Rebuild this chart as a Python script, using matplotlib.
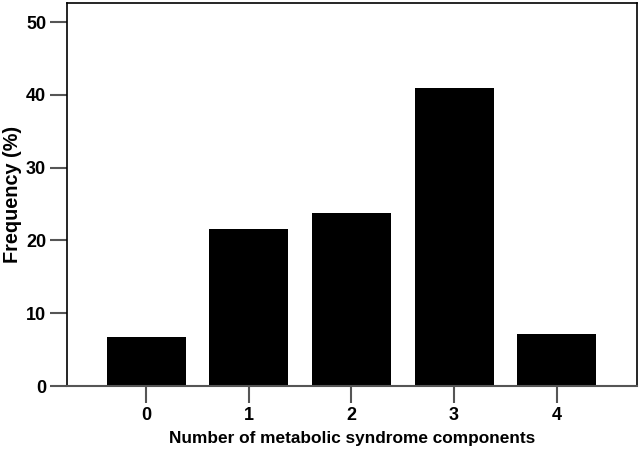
import matplotlib
matplotlib.use('Agg')
import matplotlib.pyplot as plt

plt.rcParams['font.family'] = ['Liberation Sans', 'DejaVu Sans']
plt.rcParams['font.weight'] = 'bold'

components = ['0', '1', '2', '3', '4']
frequency = [6.7, 21.6, 23.8, 40.9, 7.2]

fig = plt.figure(figsize=(6.4, 4.51), dpi=100)
ax = fig.add_axes([0.1047, 0.144, 0.8903, 0.849])

x = range(len(components))
ax.bar(x, frequency, width=0.77, color='black')

ax.set_xlim(-0.77, 4.78)
ax.set_ylim(0, 52.6)
ax.set_xticks(list(x))
ax.set_xticklabels(components)
ax.set_yticks([0, 10, 20, 30, 40, 50])

for side in ['top', 'right', 'left']:
    ax.spines[side].set_color('black')
    ax.spines[side].set_linewidth(1.2)
ax.spines['bottom'].set_color('#555555')
ax.spines['bottom'].set_linewidth(1.5)

ax.tick_params(axis='both', direction='out', length=12, width=1.5,
               color='#555555', labelsize=13, pad=3)
for lbl in ax.get_xticklabels() + ax.get_yticklabels():
    lbl.set_fontweight('bold')

ax.set_xlabel('Number of metabolic syndrome components', fontsize=12.4,
              fontweight='bold', labelpad=5)
ax.set_ylabel('Frequency (%)', fontsize=14.3, fontweight='bold')
ax.yaxis.set_label_coords(-0.079, 0.5)

fig.savefig('out.png', dpi=100)
